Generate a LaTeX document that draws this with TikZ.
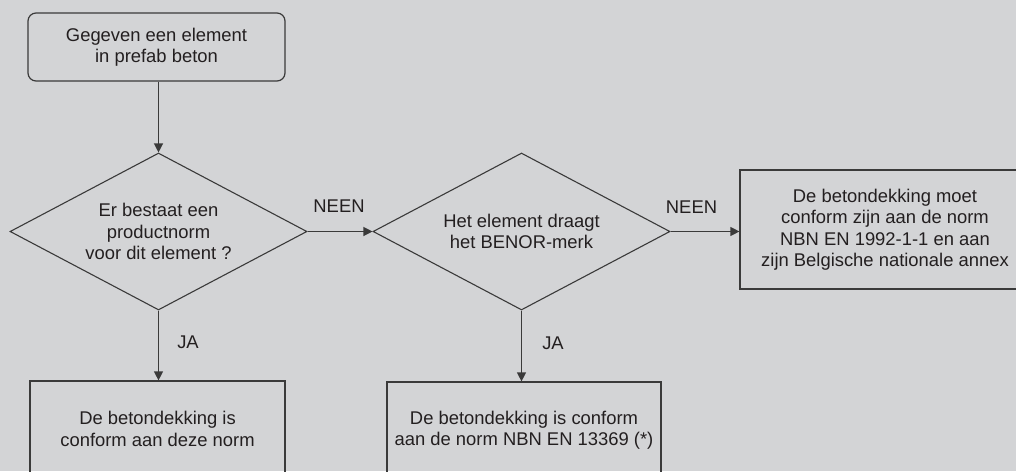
\documentclass[tikz,border=0pt]{standalone}
\usepackage{fontspec}
\setmainfont{Liberation Sans}
\usetikzlibrary{shapes.geometric,arrows.meta}
\definecolor{bg}{HTML}{D3D4D6}
\definecolor{ln}{HTML}{3A3A3A}
\definecolor{tx}{HTML}{231F20}
\begin{document}
\begin{tikzpicture}[x=1pt,y=-1pt,
  font=\fontsize{18.4}{21.5}\selectfont,
  every node/.style={text=tx},
  boxstyle/.style={draw=ln,line width=1.2pt,align=center,inner sep=0pt},
  decision/.style={draw=ln,line width=1.1pt,shape=diamond,aspect=1.89,minimum width=297pt,minimum height=157pt,inner sep=0pt,align=center},
  conn/.style={draw=ln,line width=1.2pt,-{Triangle[length=9pt,width=9pt]}},
  lbl/.style={anchor=base,inner sep=0pt}
]
\fill[bg] (0,0) rectangle (1016,471);
\useasboundingbox (0,0) rectangle (1016,471);
\clip (0,0) rectangle (1016,471);

\node[boxstyle,rounded corners=8pt,minimum width=257pt,minimum height=68pt] (start) at (156.5,47) {Gegeven een element\\in prefab beton};
\node[decision] (d1) at (158.5,231.5) {Er bestaat een\\productnorm\\voor dit element ?};
\node[decision] (d2) at (521.5,231.5) {Het element draagt\\het BENOR-merk};
\node[boxstyle,minimum width=290pt,minimum height=119pt] (r) at (885,229.5) {De betondekking moet\\conform zijn aan de norm\\NBN EN 1992-1-1 en aan\\zijn Belgische nationale annex};
\node[boxstyle,minimum width=255pt,minimum height=96pt] (b1) at (157.5,429) {De betondekking is\\conform aan deze norm};
\node[boxstyle,minimum width=274pt,minimum height=96pt] (b2) at (524,430) {De betondekking is conform\\aan de norm NBN EN 13369 (*)};

\draw[conn] (start.south -| d1.north) -- (d1.north);
\draw[conn] (d1.south) -- (d1.south |- b1.north);
\draw[conn] (d1.east) -- (d2.west);
\draw[conn] (d2.east) -- (r.west |- d2.east);
\draw[conn] (d2.south) -- (d2.south |- b2.north);

\node[lbl] (n1) at (339,212) {NEEN};
\node[lbl] (n2) at (691.5,213) {NEEN};
\node[lbl] (j1) at (188,348) {JA};
\node[lbl] (j2) at (553,349) {JA};
\end{tikzpicture}
\end{document}
